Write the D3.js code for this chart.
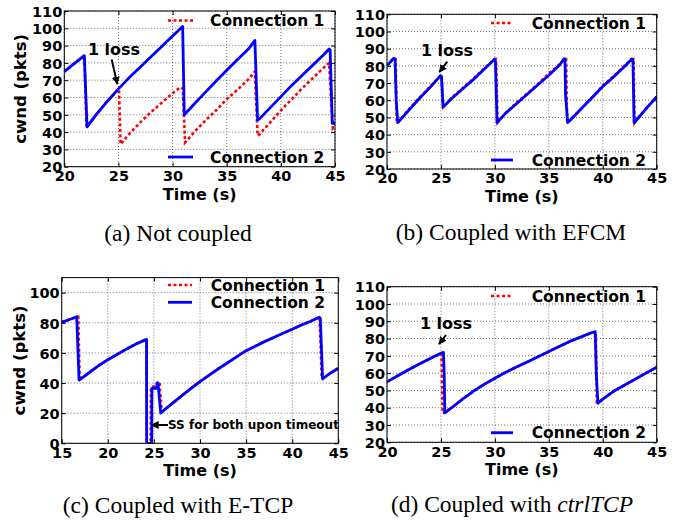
<!DOCTYPE html>
<html>
<head>
<meta charset="utf-8">
<script src="https://cdn.jsdelivr.net/npm/d3@7"></script>
<style>
  html, body { margin: 0; padding: 0; background: #fff; }
  svg { display: block; }
  text { font-family: "DejaVu Sans", sans-serif; font-weight: bold; fill: #000; }
  .cap { font-family: "Liberation Serif", "Times New Roman", serif; font-weight: normal; }
</style>
</head>
<body>
<svg id="chart" width="689" height="521"></svg>
<script>
// ---------------- DATA ----------------
const seriesNames = ["Connection 1", "Connection 2"];
const captions = ["(a) Not coupled", "(b) Coupled with EFCM", "(c) Coupled with E-TCP", "(d) Coupled with "];
const xTicksA = [20, 25, 30, 35, 40, 45];
const xTicksC = [15, 20, 25, 30, 35, 40, 45];
const yTicksA = [20, 30, 40, 50, 60, 70, 80, 90, 100, 110];
const yTicksC = [0, 20, 40, 60, 80, 100];

// (a) Not coupled
const notCoupledConn1 = [[20,75],[21,80],[21.85,84.2],[22.05,43],[23,50.5],[24,58],[25.05,65],[25.2,33],[26,39],[27,45.5],[28,51.5],[29,57],[30,62.5],[30.75,66],[30.95,65],[31.15,34],[32,40],[33,46.5],[34,52.5],[35,59],[36,64.5],[37,70.5],[37.6,75],[37.85,38],[38,38.5],[39,45.5],[40,52.5],[41,59],[42,65.5],[43,71.5],[44,77.5],[44.45,80],[44.8,42],[45,43]];
const notCoupledConn2 = [[20,75],[21,80],[21.85,84.2],[22.1,43],[23,50.5],[24,58],[25,65],[26,71.5],[27,77.5],[28,83.5],[29,89.5],[30,95.5],[30.93,101],[31.08,50],[32,56.2],[33,62.8],[34,69.4],[35,75.8],[36,82],[37,88],[37.6,93],[37.85,47],[38,47.5],[39,54],[40,60.5],[41,67],[42,73],[43,79],[44,85],[44.45,88],[44.55,87.5],[44.75,45],[45,45]];

// (b) Coupled with EFCM
const efcmConn1 = [[20,80],[20.6,84.4],[20.8,84],[20.9,47],[21,47],[22,54.5],[23,61.5],[24,68],[24.96,74.3],[25.05,74],[25.2,56],[26,61.5],[27,67],[28,72.5],[29,78.5],[29.97,84],[30.1,84],[30.25,47],[31,52.5],[32,58.5],[33,64],[34,69.5],[35,75.5],[36,81],[36.45,84.2],[36.6,84],[36.7,47],[37,48.5],[38,55],[39,61.5],[40,68.5],[41,74],[42,80],[42.7,84],[42.85,84],[42.95,47],[43,47.5],[44,55],[45,62]];
const efcmConn2 = [[20,80],[20.6,84.4],[20.75,84],[20.85,60],[21,47],[22,54],[23,61],[24,67.5],[24.96,74.3],[25.05,74],[25.2,56],[26,61],[27,66.5],[28,72],[29,78],[29.97,83.8],[30.05,83],[30.2,47],[31,52.5],[32,58],[33,63.5],[34,69],[35,74.5],[36,80.5],[36.4,84],[36.5,84],[36.55,63],[36.75,47],[37,48.5],[38,55],[39,61.5],[40,68],[41,73.5],[42,79.5],[42.7,84],[42.8,83.5],[42.9,47],[43,47.5],[44,55],[45,62]];

// (c) Coupled with E-TCP
const etcpConn1 = [[15,80.3],[16,82.5],[16.63,84],[16.8,84],[16.95,42],[17,42.5],[18,47],[19,51.5],[20,55.5],[21,59],[22,62.5],[23,65.8],[24,68.5],[24.2,69],[24.22,0],[24.65,0],[24.68,37],[25,38],[25.3,39],[25.5,41],[25.6,41],[25.85,21],[26,21.5],[27,26.5],[28,31.5],[29,36.3],[30,41],[31,45.3],[32,49.5],[33,53.5],[34,57.5],[35,61.5],[36,64.5],[37,67.5],[38,70.3],[39,73],[40,75.7],[41,78.5],[42,81],[42.94,83.7],[42.98,83.5],[43.2,43],[44,46],[45,49.8]];
const etcpConn2 = [[15,80.3],[16,82.5],[16.63,84],[16.88,42],[17,42.5],[18,47],[19,51.5],[20,55.5],[21,59],[22,62.5],[23,65.8],[24,68.5],[24.2,69],[24.22,0],[24.76,0],[24.78,36.5],[25.3,36.5],[25.33,40],[25.45,40],[25.74,20],[26,21.5],[27,26.5],[28,31.5],[29,36.3],[30,41],[31,45.3],[32,49.5],[33,53.5],[34,57.5],[35,61.5],[36,64.5],[37,67.5],[38,70.3],[39,73],[40,75.7],[41,78.5],[42,81],[42.94,83.7],[43.05,83],[43.3,42.7],[44,46],[45,49.8]];

// (d) Coupled with ctrlTCP
const ctrlConn1 = [[20,55],[21,58.5],[22,62],[23,65.3],[24,68.5],[25,71.3],[25.05,71.3],[25.15,37],[25.36,37.5],[26,40],[27,45],[28,49.5],[29,53.5],[30,57],[31,60.5],[32,63.5],[33,66.5],[34,69.5],[35,72.5],[36,75.5],[37,78.5],[38,81],[39,83.5],[39.35,84],[39.45,43],[39.55,42.8],[40,45],[41,49.5],[42,53],[43,56.5],[44,60],[45,63.4]];
const ctrlConn2 = [[20,55],[21,58.5],[22,62],[23,65.3],[24,68.5],[25,71.5],[25.23,72],[25.3,60],[25.36,37],[26,40],[27,45],[28,49.5],[29,53.5],[30,57],[31,60.5],[32,63.5],[33,66.5],[34,69.5],[35,72.5],[36,75.5],[37,78.5],[38,81],[39,83.5],[39.3,84],[39.4,60],[39.55,42.6],[40,45],[41,49.5],[42,53],[43,56.5],[44,60],[45,63.4]];

// ---------------- DRAW ----------------
const svg = d3.select("#chart");
const defs = svg.append("defs");
defs.append("marker").attr("id", "ah").attr("viewBox", "0 0 10 10")
  .attr("refX", 9).attr("refY", 5).attr("markerWidth", 4).attr("markerHeight", 4)
  .attr("orient", "auto").attr("markerUnits", "strokeWidth")
  .append("path").attr("d", "M0,0 L10,5 L0,10 z").attr("fill", "#000");

const RED = "#ff0000", BLUE = "#0000ff";

function panel(cfg) {
  const g = svg.append("g");
  const x = d3.scaleLinear().domain(cfg.xDomain).range([cfg.left, cfg.right]);
  const y = d3.scaleLinear().domain(cfg.yDomain).range([cfg.bottom, cfg.top]);
  const clipId = "clip" + cfg.id;
  defs.append("clipPath").attr("id", clipId).append("rect")
    .attr("x", cfg.left).attr("y", cfg.top).attr("width", cfg.right - cfg.left).attr("height", cfg.bottom - cfg.top);

  // grid
  g.append("g").selectAll("line").data(cfg.xTicks).join("line")
    .attr("x1", d => x(d)).attr("x2", d => x(d)).attr("y1", cfg.top).attr("y2", cfg.bottom)
    .attr("stroke", "#333").attr("stroke-width", 0.7).attr("stroke-dasharray", "1,2");
  g.append("g").selectAll("line").data(cfg.yTicks).join("line")
    .attr("x1", cfg.left).attr("x2", cfg.right).attr("y1", d => y(d)).attr("y2", d => y(d))
    .attr("stroke", "#333").attr("stroke-width", 0.7).attr("stroke-dasharray", "1,2");

  // axes via d3 axes (inward ticks)
  const xAxis = d3.axisBottom(x).tickValues(cfg.xTicks).tickSize(-4).tickPadding(5);
  const yAxis = d3.axisLeft(y).tickValues(cfg.yTicks).tickSize(-4).tickPadding(2);
  const gx = g.append("g").attr("transform", `translate(0,${cfg.bottom})`).call(xAxis);
  const gy = g.append("g").attr("transform", `translate(${cfg.left},0)`).call(yAxis);
  [gx, gy].forEach(a => {
    a.select(".domain").remove();
    a.selectAll("text").style("font-family", "DejaVu Sans").style("font-weight", "bold")
      .style("font-size", "14.5px").attr("fill", "#000");
    a.selectAll("line").attr("stroke", "#000");
  });
  gx.selectAll("text").attr("dy", "0.71em").attr("y", 4);
  gy.selectAll("text").attr("dy", "0.36em");
  // top/right inward ticks
  g.append("g").attr("transform", `translate(0,${cfg.top})`)
    .call(d3.axisTop(x).tickValues(cfg.xTicks).tickSize(-4).tickFormat(""))
    .call(a => a.select(".domain").remove());
  g.append("g").attr("transform", `translate(${cfg.right},0)`)
    .call(d3.axisRight(y).tickValues(cfg.yTicks).tickSize(-4).tickFormat(""))
    .call(a => a.select(".domain").remove());

  // lines
  const line = d3.line().x(d => x(d[0])).y(d => y(d[1]));
  const lg = g.append("g").attr("clip-path", `url(#${clipId})`);
  lg.append("path").datum(cfg.s1).attr("d", line).attr("fill", "none")
    .attr("stroke", RED).attr("stroke-width", 2.6).attr("stroke-dasharray", "3,2.5");
  lg.append("path").datum(cfg.s2).attr("d", line).attr("fill", "none")
    .attr("stroke", BLUE).attr("stroke-width", 2.8).attr("stroke-linejoin", "round");

  // frame
  g.append("rect").attr("x", cfg.left).attr("y", cfg.top)
    .attr("width", cfg.right - cfg.left).attr("height", cfg.bottom - cfg.top)
    .attr("fill", "none").attr("stroke", "#000").attr("stroke-width", 1);

  // legends
  cfg.legend.forEach((L, i) => {
    g.append("line").attr("x1", L.x1).attr("x2", L.x2).attr("y1", L.y).attr("y2", L.y)
      .attr("stroke", i === 0 ? RED : BLUE).attr("stroke-width", i === 0 ? 2.6 : 2.8)
      .attr("stroke-dasharray", i === 0 ? "3,2.5" : null);
    g.append("text").attr("x", L.tx).attr("y", L.y).attr("dy", "0.36em")
      .style("font-size", "15.5px").text(seriesNames[i]);
  });

  // x label
  g.append("text").attr("x", (cfg.left + cfg.right) / 2).attr("y", cfg.bottom + 33)
    .attr("text-anchor", "middle").style("font-size", "16px").text("Time (s)");
  if (cfg.ylabel) {
    g.append("text").attr("transform", `translate(${cfg.ylabelX},${(cfg.top + cfg.bottom) / 2}) rotate(-90)`)
      .attr("text-anchor", "middle").attr("dy", "0.36em").style("font-size", "16.5px").text("cwnd (pkts)");
  }
  // annotations
  (cfg.notes || []).forEach(n => {
    g.append("text").attr("x", n.tx).attr("y", n.ty).attr("text-anchor", n.anchor || "middle")
      .style("font-size", n.size + "px").text(n.text);
    g.append("line").attr("x1", n.ax1).attr("y1", n.ay1).attr("x2", n.ax2).attr("y2", n.ay2)
      .attr("stroke", "#000").attr("stroke-width", 2).attr("marker-end", "url(#ah)");
  });
  // caption
  const cap = g.append("text").attr("class", "cap").attr("x", cfg.capX).attr("y", cfg.capY)
    .attr("text-anchor", "middle").style("font-size", "23.5px").style("font-weight", "normal")
    .style("font-family", "Liberation Serif");
  cap.append("tspan").text(cfg.caption);
  if (cfg.capItalic) cap.append("tspan").style("font-style", "italic").text(cfg.capItalic);
}

panel({
  id: "a", left: 64.3, right: 335, top: 11, bottom: 166.7,
  xDomain: [20, 45], yDomain: [20, 110], xTicks: xTicksA, yTicks: yTicksA,
  s1: notCoupledConn1, s2: notCoupledConn2,
  legend: [{x1: 168, x2: 193, tx: 210, y: 20.5}, {x1: 168, x2: 193, tx: 210, y: 157}],
  ylabel: true, ylabelX: 20,
  notes: [{text: "1 loss", tx: 114, ty: 55, size: 16, ax1: 111.7, ay1: 59.5, ax2: 117.3, ay2: 84}],
  caption: captions[0], capX: 178, capY: 241
});
panel({
  id: "b", left: 387, right: 656.7, top: 14.3, bottom: 169,
  xDomain: [20, 45], yDomain: [20, 110], xTicks: xTicksA, yTicks: yTicksA,
  s1: efcmConn1, s2: efcmConn2,
  legend: [{x1: 491, x2: 513, tx: 531.7, y: 23}, {x1: 491, x2: 513, tx: 531.7, y: 160}],
  ylabel: false,
  notes: [{text: "1 loss", tx: 447, ty: 56, size: 16, ax1: 447.3, ay1: 61.7, ax2: 439.3, ay2: 72}],
  caption: captions[1], capX: 511, capY: 240
});
panel({
  id: "c", left: 61.7, right: 338.3, top: 277.6, bottom: 443.3,
  xDomain: [15, 45], yDomain: [0, 110], xTicks: xTicksC, yTicks: yTicksC,
  s1: etcpConn1, s2: etcpConn2,
  legend: [{x1: 168, x2: 192, tx: 210.7, y: 285}, {x1: 168, x2: 192, tx: 210.7, y: 302.3}],
  ylabel: true, ylabelX: 19,
  notes: [{text: "SS for both upon timeout", tx: 168, ty: 429, size: 12, anchor: "start", ax1: 168, ay1: 425, ax2: 151.5, ay2: 425}],
  caption: captions[2], capX: 178, capY: 513
});
panel({
  id: "d", left: 387, right: 656.7, top: 286.7, bottom: 442.3,
  xDomain: [20, 45], yDomain: [20, 110], xTicks: xTicksA, yTicks: yTicksA,
  s1: ctrlConn1, s2: ctrlConn2,
  legend: [{x1: 491, x2: 513, tx: 531.7, y: 296}, {x1: 491, x2: 513, tx: 531.7, y: 432.7}],
  ylabel: false,
  notes: [{text: "1 loss", tx: 446, ty: 328.5, size: 16, ax1: 446, ay1: 335, ax2: 439, ay2: 344}],
  caption: captions[3], capItalic: "ctrlTCP", capX: 512, capY: 512
});
</script>
</body>
</html>
